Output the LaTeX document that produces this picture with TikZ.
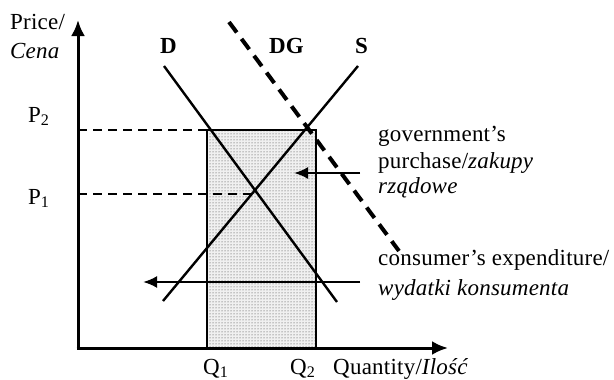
\documentclass[tikz,border=0pt]{standalone}
\usepackage{fontspec}
\setmainfont{Liberation Serif}
\usetikzlibrary{arrows.meta,patterns}
\begin{document}
\begin{tikzpicture}[x=1pt,y=-1pt,
  lbl/.style={inner sep=0pt,anchor=base west,font=\fontsize{23}{27}\selectfont\addfontfeatures{LetterSpace=1}},
  blbl/.style={lbl,font=\fontsize{23}{27}\selectfont\bfseries},
  curve/.style={line width=2.4pt},
  pdash/.style={line width=2pt,dash pattern=on 9pt off 6pt},
  gdash/.style={line width=4pt,dash pattern=on 13pt off 8pt},
  axis/.style={line width=3pt,-{Latex[length=16pt,width=14pt]}},
  harrow/.style={line width=2.4pt,-{Latex[length=14pt,width=12pt]}}]
\useasboundingbox (0,0) rectangle (614,380);
% coordinates
\coordinate (O) at (78,348);
\coordinate (ytip) at (78,20);
\coordinate (xtip) at (448,348);
\coordinate (p2a) at (78,130);
\coordinate (p2b) at (207,130);
\coordinate (p1a) at (78,194);
\coordinate (p1b) at (254,194);
\coordinate (r1) at (207,130);
\coordinate (r2) at (316,348);
\coordinate (d1) at (164,66);
\coordinate (d2) at (337,302);
\coordinate (s1) at (163,301);
\coordinate (s2) at (358,66);
\coordinate (g1) at (229,22);
\coordinate (g2) at (399,251);
\coordinate (ga) at (360,173);
\coordinate (gb) at (294,173);
\coordinate (ca) at (360,282);
\coordinate (cb) at (143,282);
% shaded rectangle
\fill[gray!12] (r1) rectangle (r2);
\fill[pattern=dots,pattern color=black!80] (r1) rectangle (r2);
\draw[line width=1.3pt] (r1) rectangle (r2);
% dashed price lines
\draw[pdash] (p2a) -- (p2b);
\draw[pdash] (p1a) -- (p1b);
% curves
\draw[curve] (d1) -- (d2);
\draw[curve] (s1) -- (s2);
\draw[gdash] (g1) -- (g2);
% arrows
\draw[harrow] (ga) -- (gb);
\draw[harrow] (ca) -- (cb);
% axes
\draw[axis] (O) -- (ytip);
\draw[axis] ([xshift=-1.5pt]O) -- (xtip);
% labels
\node[lbl] (price) at (10,30) {Price/};
\node[lbl] (cena) at (10,58) {\itshape Cena};
\node[blbl] (dl) at (160,53) {D};
\node[blbl] (dgl) at (269,53) {DG};
\node[blbl] (sl) at (355,53) {S};
\node[lbl] (p2) at (28,122) {P\textsubscript{2}};
\node[lbl] (p1) at (28,204) {P\textsubscript{1}};
\node[lbl] (q1) at (203,374) {Q\textsubscript{1}};
\node[lbl] (q2) at (290,374) {Q\textsubscript{2}};
\node[lbl] (qty) at (333,374) {Quantity/\textit{Ilość}};
\node[lbl] (gov1) at (378,141) {government’s};
\node[lbl] (gov2) at (378,168) {purchase/\textit{zakupy}};
\node[lbl] (gov3) at (378,193) {\textit{rządowe}};
\node[lbl] (con1) at (378,265) {consumer’s expenditure/};
\node[lbl] (con2) at (378,295) {\textit{wydatki konsumenta}};
\end{tikzpicture}
\end{document}
